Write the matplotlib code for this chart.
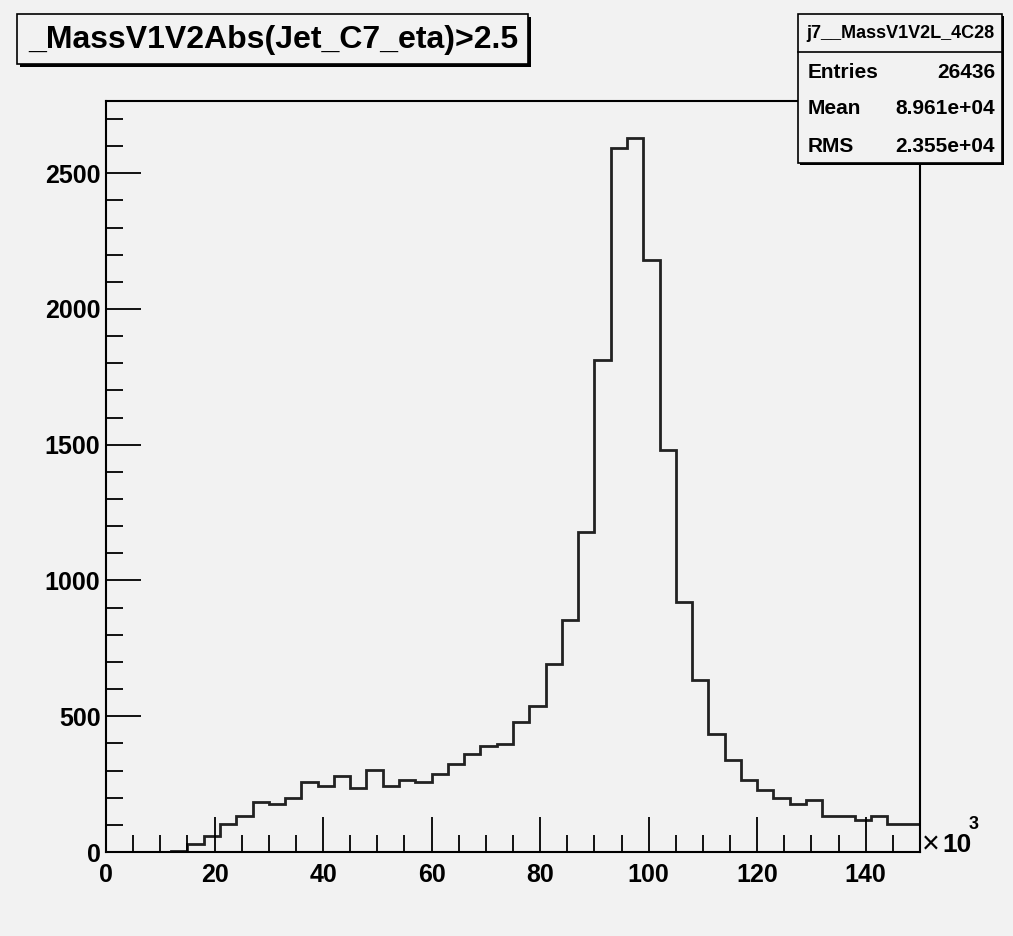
import matplotlib
matplotlib.use('Agg')
import matplotlib.pyplot as plt
from matplotlib.patches import Rectangle
from matplotlib.ticker import MultipleLocator
import numpy as np

# histogram: 50 bins of 3 (x10^3) from 0 to 150
bin_edges = np.arange(0, 151, 3)
counts = [0, 0, 0, 0, 5, 29, 59, 103, 133, 184,
          177, 199, 258, 242, 281, 234, 302, 242, 265, 258,
          287, 324, 361, 391, 399, 479, 539, 692, 855, 1178,
          1813, 2594, 2631, 2181, 1480, 921, 632, 434, 340, 265,
          227, 198, 175, 191, 131, 131, 117, 133, 102, 102]

title = '_MassV1V2Abs(Jet_C7_eta)>2.5'
stats_name = 'j7__MassV1V2L_4C28'
stats_labels = ['Entries', 'Mean', 'RMS']
stats_values = ['26436', '8.961e+04', '2.355e+04']

W, H = 1013, 936
bg = '#f2f2f2'
plt.rcParams['font.family'] = ['Liberation Sans', 'DejaVu Sans']
plt.rcParams['font.weight'] = 'bold'


def fx(px):
    return px / W


def fy(py):
    return 1 - py / H


fig = plt.figure(figsize=(W / 100, H / 100), dpi=100, facecolor=bg)
ax = fig.add_axes([fx(106), fy(852), fx(920) - fx(106), fy(101) - fy(852)])
ax.set_facecolor(bg)

ax.stairs(counts, bin_edges, color='#222222', lw=2)
ax.set_xlim(0, 150)
ax.set_ylim(0, 2766)

ax.xaxis.set_major_locator(MultipleLocator(20))
ax.xaxis.set_minor_locator(MultipleLocator(5))
ax.yaxis.set_major_locator(MultipleLocator(500))
ax.yaxis.set_minor_locator(MultipleLocator(100))
ax.tick_params(which='both', direction='in', top=False, right=False,
               width=1.3, color='black', labelsize=18)
ax.tick_params(which='major', length=25)
ax.tick_params(which='minor', length=12)
ax.tick_params(axis='x', which='major', pad=8)
ax.tick_params(axis='y', which='major', pad=4)
for lab in ax.get_xticklabels() + ax.get_yticklabels():
    lab.set_fontweight('bold')
for s in ax.spines.values():
    s.set_linewidth(1.5)
    s.set_color('black')

# x10^3 axis multiplier
fig.text(fx(922), fy(853), '\u00d7', fontsize=22, fontweight='normal',
         va='baseline', ha='left')
fig.text(fx(942), fy(852), '10', fontsize=19, fontweight='bold', va='baseline', ha='left')
fig.text(fx(969), fy(829), '3', fontsize=13, fontweight='bold', va='baseline', ha='left')


def box(x0, y0, x1, y1, sh=3):
    fig.patches.append(Rectangle((fx(x0 + sh), fy(y1 + sh)), fx(x1 - x0), fy(y0) - fy(y1),
                                 transform=fig.transFigure, facecolor='black',
                                 edgecolor='none', zorder=5))
    fig.patches.append(Rectangle((fx(x0), fy(y1)), fx(x1 - x0), fy(y0) - fy(y1),
                                 transform=fig.transFigure, facecolor=bg,
                                 edgecolor='black', lw=1.2, zorder=6))


# title box
box(17, 14, 528, 64)
fig.text(fx(273), fy(40), title, fontsize=23, fontweight='bold',
         ha='center', va='center', zorder=7)

# stats box
box(798, 14, 1002, 163, sh=2)
fig.add_artist(plt.Line2D([fx(798), fx(1002)], [fy(52), fy(52)],
                          transform=fig.transFigure, color='black', lw=1.2, zorder=7))
fig.text(fx(900), fy(33), stats_name, fontsize=13, fontweight='bold',
         ha='center', va='center', zorder=7)
for i, (lab, val) in enumerate(zip(stats_labels, stats_values)):
    y = 72 + i * 37
    fig.text(fx(808), fy(y), lab, fontsize=15, fontweight='bold',
             ha='left', va='center', zorder=7)
    fig.text(fx(995), fy(y), val, fontsize=15, fontweight='bold',
             ha='right', va='center', zorder=7)

fig.savefig('out.png', dpi=100, facecolor=bg)
